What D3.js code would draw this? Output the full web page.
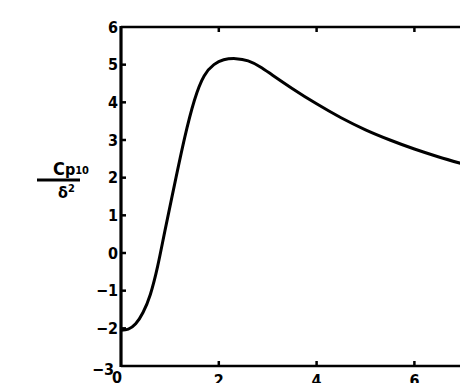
<!DOCTYPE html>
<meta charset="utf-8">
<style>
  body { margin: 0; background: #fff; }
  svg { display: block; }
  .tick-label { font-family: "DejaVu Sans Condensed", "DejaVu Sans", Arial, sans-serif; font-weight: bold; font-size: 16px; fill: #000; }
  .ylab { font-family: "DejaVu Sans Condensed", "DejaVu Sans", Arial, sans-serif; font-weight: bold; fill: #000; }
</style>
<body>
<script src="https://cdnjs.cloudflare.com/ajax/libs/d3/7.8.5/d3.min.js"></script>
<script>
// curve
var xs = [0, 0.15, 0.3, 0.45, 0.6, 0.75, 0.9, 1.1, 1.3, 1.5, 1.7, 1.9, 2.1, 2.35, 2.6, 2.85, 3.1, 3.5, 4.0, 4.5, 5.0, 5.5, 6.0, 6.5, 7.0];
var ys = [-2.05, -2.02, -1.88, -1.58, -1.1, -0.35, 0.6, 1.85, 3.05, 4.05, 4.7, 5.0, 5.13, 5.16, 5.1, 4.94, 4.72, 4.37, 3.96, 3.59, 3.27, 3.0, 2.76, 2.55, 2.36];
var yTicks = [-3, -2, -1, 0, 1, 2, 3, 4, 5, 6];
var xTicks = [0, 2, 4, 6];
var data = xs.map(function(d, i) { return {x: d, y: ys[i]}; });

var width = 460, height = 383;
var margin = {top: 27, left: 121};

var x = d3.scaleLinear().domain([0, 8]).range([margin.left, margin.left + 8 * 48.9]);
var y = d3.scaleLinear().domain([-3, 6]).range([366, 27]);

var svg = d3.select("body").append("svg")
    .attr("width", width)
    .attr("height", height);

// frame
var x0 = x(0), xR = x(8);
svg.append("line").attr("x1", x0).attr("x2", xR).attr("y1", y(6)).attr("y2", y(6))
    .attr("stroke", "#000").attr("stroke-width", 2.5);
svg.append("line").attr("x1", x0).attr("x2", xR).attr("y1", y(-3)).attr("y2", y(-3))
    .attr("stroke", "#000").attr("stroke-width", 2.5);
svg.append("line").attr("x1", x0).attr("x2", x0).attr("y1", y(6) - 1).attr("y2", y(-3) + 1)
    .attr("stroke", "#000").attr("stroke-width", 3.2);

// y ticks (inward) and labels
svg.selectAll(".ytick").data(yTicks.filter(function(d) { return d > -3 && d < 6; }))
  .enter().append("line")
    .attr("x1", x0).attr("x2", x0 + 5)
    .attr("y1", function(d) { return y(d); }).attr("y2", function(d) { return y(d); })
    .attr("stroke", "#000").attr("stroke-width", 2.5);

svg.selectAll(".ylabel").data(yTicks)
  .enter().append("text")
    .attr("class", "tick-label")
    .attr("x", function(d) { return d === -3 ? x0 - 7 : x0 - 3; })
    .attr("y", function(d) { return d === -3 ? y(d) + 3 : y(d); })
    .attr("dy", "0.36em")
    .attr("text-anchor", "end")
    .text(function(d) { return d < 0 ? "\u2212" + Math.abs(d) : d; });

// x ticks top (down) and bottom (up)
svg.selectAll(".xtickt").data(xTicks.slice(1))
  .enter().append("line")
    .attr("x1", function(d) { return x(d); }).attr("x2", function(d) { return x(d); })
    .attr("y1", y(6)).attr("y2", y(6) + 5)
    .attr("stroke", "#000").attr("stroke-width", 2.5);
svg.selectAll(".xtickb").data(xTicks.slice(1))
  .enter().append("line")
    .attr("x1", function(d) { return x(d); }).attr("x2", function(d) { return x(d); })
    .attr("y1", y(-3)).attr("y2", y(-3) - 5)
    .attr("stroke", "#000").attr("stroke-width", 2.5);

svg.selectAll(".xlabel").data(xTicks)
  .enter().append("text")
    .attr("class", "tick-label")
    .attr("x", function(d) { return d === 0 ? x(d) - 4 : x(d); })
    .attr("y", function(d) { return d === 0 ? 383 : 386; })
    .attr("font-size", function(d) { return d === 0 ? 14 : 16; })
    .attr("text-anchor", "middle")
    .text(function(d) { return d; });

// y axis title: Cp10 / delta^2
var t = svg.append("g");
t.append("text").attr("class", "ylab").attr("x", 53).attr("y", 175).attr("font-size", 18)
    .text("C")
  .append("tspan").attr("font-size", 16).text("p")
  .append("tspan").attr("font-size", 11).attr("dy", -1).text("10");
t.append("line").attr("x1", 37).attr("x2", 80).attr("y1", 180).attr("y2", 180)
    .attr("stroke", "#000").attr("stroke-width", 2.8);
t.append("text").attr("class", "ylab").attr("x", 58).attr("y", 198).attr("font-size", 16)
    .text("\u03b4")
  .append("tspan").attr("font-size", 11).attr("dy", -6).text("2");

// curve
var line = d3.line()
    .x(function(d) { return x(d.x); })
    .y(function(d) { return y(d.y); })
    .curve(d3.curveNatural);

svg.append("path")
    .datum(data)
    .attr("d", line)
    .attr("fill", "none")
    .attr("stroke", "#000")
    .attr("stroke-width", 3)
    .attr("stroke-linejoin", "round");
</script>
</body>
